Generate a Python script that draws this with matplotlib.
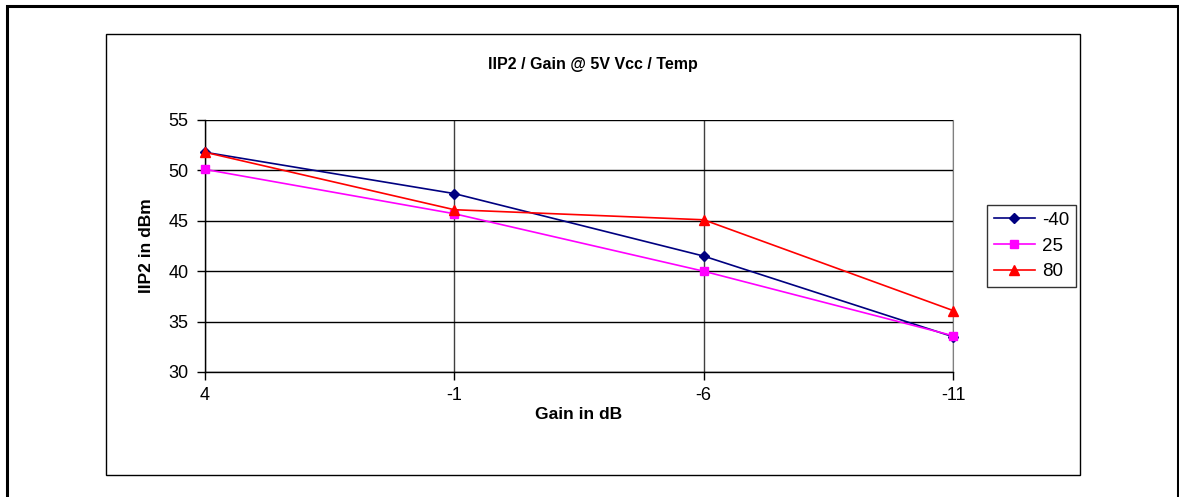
import matplotlib.pyplot as plt
from matplotlib.patches import Rectangle

plt.rcParams['font.family'] = ['Liberation Sans', 'DejaVu Sans']

gains = ["4", "-1", "-6", "-11"]
temp_m40 = [51.8, 47.7, 41.5, 33.5]
temp_25 = [50.1, 45.7, 40.0, 33.6]
temp_80 = [51.8, 46.1, 45.1, 36.1]

fig = plt.figure(figsize=(11.79, 4.97), dpi=100)

# outer border (bottom edge runs off the picture) and inner chart area border
fig.patches.append(Rectangle((7 / 1179, -0.02), 1171 / 1179, 1 - 6 / 497 + 0.02, transform=fig.transFigure,
                             fill=False, edgecolor='black', linewidth=2.2, clip_on=False))
fig.patches.append(Rectangle((106 / 1179, 22 / 497), 974 / 1179, 441 / 497, transform=fig.transFigure,
                             fill=False, edgecolor='black', linewidth=1.0, clip_on=False))

ax = fig.add_axes([205 / 1179, 125 / 497, 748 / 1179, 252 / 497])
x = range(len(gains))

ax.plot(x, temp_m40, color='#000080', marker='D', markersize=5, linewidth=1.2, label='-40', clip_on=False, zorder=3)
ax.plot(x, temp_25, color='#ff00ff', marker='s', markersize=6, linewidth=1.2, label='25', clip_on=False, zorder=3)
ax.plot(x, temp_80, color='#ff0000', marker='^', markersize=7, linewidth=1.2, label='80', clip_on=False, zorder=3)

ax.set_xlim(0, 3)
ax.set_ylim(30, 55)
ax.set_yticks([30, 35, 40, 45, 50, 55])
ax.set_xticks(list(x))
ax.set_xticklabels(gains)
ax.tick_params(axis='both', labelsize=13, length=6, width=1, direction='out', pad=6)
ax.tick_params(axis='x', pad=5)

ax.grid(axis='y', color='black', linewidth=1)
ax.grid(axis='x', color='#404040', linewidth=1)
ax.set_axisbelow(True)
ax.spines['top'].set_visible(False)
ax.spines['right'].set_color('#808080')
ax.spines['left'].set_linewidth(1)
ax.spines['bottom'].set_linewidth(1)

ax.set_xlabel("Gain in dB", fontsize=12.5, fontweight='bold', labelpad=2)
ax.set_ylabel("IIP2 in dBm", fontsize=12.5, fontweight='bold', labelpad=10)
fig.text(593 / 1179, 1 - 64 / 497, "IIP2 / Gain @ 5V Vcc / Temp", ha='center', va='center',
         fontsize=11.5, fontweight='bold')

leg = ax.legend(loc='center left', bbox_to_anchor=(987 / 1179, 1 - 246 / 497), bbox_transform=fig.transFigure,
                fontsize=13.5, frameon=True, fancybox=False, edgecolor='black', handlelength=2.2,
                borderpad=0.35, labelspacing=0.45, handletextpad=0.4, borderaxespad=0)
leg.get_frame().set_linewidth(1)

fig.savefig("out.png", dpi=100)
